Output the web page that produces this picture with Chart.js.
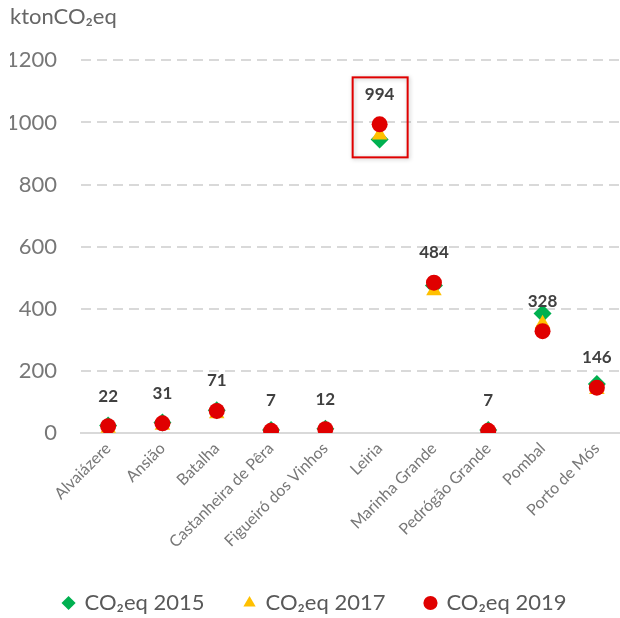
<!DOCTYPE html>
<html>
<head>
<meta charset="utf-8">
<script src="https://cdn.jsdelivr.net/npm/chart.js@4/dist/chart.umd.min.js"></script>
<style>
html,body{margin:0;padding:0;background:#fff;}
#wrap{width:620px;height:618px;}
</style>
</head>
<body>
<div id="wrap"><canvas id="c" width="620" height="618"></canvas></div>
<script>
const categories = ["Alvaiázere","Ansião","Batalha","Castanheira de Pêra","Figueiró dos Vinhos","Leiria","Marinha Grande","Pedrógão Grande","Pombal","Porto de Mós"];
const co2eq2015 = [24, 34, 73, 10, 14, 945, 475, 10, 385, 158];
const co2eq2017 = [15, 25, 62, 3, 8, 960, 458, 3, 352, 140];
const co2eq2019 = [22, 31, 71, 7, 12, 994, 484, 7, 328, 146];
const yTicks = [0, 200, 400, 600, 800, 1000, 1200];
const highlighted = "Leiria";

const FONT = "Lato, 'Open Sans', sans-serif";

const widenPlugin = {
  id: 'widen',
  afterLayout(chart) {
    const xs = chart.scales.x;
    const newRight = chart.width + 4;
    xs.right = newRight;
    xs.width = newRight - xs.left;
    xs.bottom = chart.height;
    xs.configure();
    chart.chartArea.right = newRight;
    chart.chartArea.width = newRight - chart.chartArea.left;
  }
};

const labelPlugin = {
  id: 'valueLabels',
  afterDatasetsDraw(chart) {
    const ctx = chart.ctx;
    const meta = chart.getDatasetMeta(0);
    ctx.save();
    ctx.font = "bold 17px " + FONT;
    ctx.fillStyle = "#404040";
    ctx.textAlign = "center";
    ctx.textBaseline = "middle";
    meta.data.forEach((pt, i) => {
      ctx.fillText(String(co2eq2019[i]), pt.x, pt.y - 30);
    });
    const idx = categories.indexOf(highlighted);
    const p = meta.data[idx];
    ctx.shadowColor = "rgba(0,0,0,0.25)";
    ctx.shadowBlur = 4;
    ctx.shadowOffsetX = 1;
    ctx.shadowOffsetY = 1;
    ctx.strokeStyle = "#E00000";
    ctx.lineWidth = 2;
    ctx.strokeRect(p.x - 27, p.y - 47, 55, 80);
    ctx.restore();
  }
};

new Chart(document.getElementById('c'), {
  type: 'line',
  data: {
    labels: categories,
    datasets: [
      { label: "CO\u2082eq 2019", data: co2eq2019, showLine: false, pointStyle: 'circle', pointRadius: 8, pointHoverRadius: 8, backgroundColor: '#E00000', borderColor: '#E00000', borderWidth: 0 },
      { label: "CO\u2082eq 2017", data: co2eq2017, showLine: false, pointStyle: 'triangle', pointRadius: 9, pointHoverRadius: 9, backgroundColor: '#FFC000', borderColor: '#FFC000', borderWidth: 0 },
      { label: "CO\u2082eq 2015", data: co2eq2015, showLine: false, pointStyle: 'rectRot', pointRadius: 9, pointHoverRadius: 9, backgroundColor: '#00B050', borderColor: '#00B050', borderWidth: 0 }
    ]
  },
  options: {
    responsive: false,
    animation: false,
    layout: { padding: { left: 10, right: 0, top: 0, bottom: -6 } },
    plugins: {
      tooltip: { enabled: false },
      title: {
        display: true,
        text: "ktonCO\u2082eq",
        align: 'start',
        color: '#666',
        font: { family: FONT, size: 22, weight: 'normal' },
        padding: { top: 4, bottom: 30 }
      },
      legend: {
        position: 'bottom',
        reverse: true,
        labels: {
          usePointStyle: true,
          boxWidth: 10,
          boxHeight: 10,
          padding: 40,
          color: '#595959',
          font: { family: FONT, size: 22 }
        }
      }
    },
    scales: {
      y: {
        min: 0, max: 1200,
        afterBuildTicks(scale) { scale.ticks = yTicks.map(v => ({ value: v })); },
        afterFit(scale) { scale.width = 71; },
        ticks: { color: '#777', font: { family: FONT, size: 22 }, padding: 24, callback: (v) => String(v) },
        grid: {
          color: (c) => c.tick && c.tick.value === 0 ? 'rgba(0,0,0,0)' : '#d9d9d9',
          lineWidth: 2,
          drawTicks: false
        },
        border: { display: false, dash: [10, 6] }
      },
      x: {
        offset: true,
        afterFit(scale) { scale.paddingLeft = 0; scale.paddingRight = 0; scale.height = 119; },
        ticks: { color: '#777', font: { family: FONT, size: 16 }, minRotation: 45, maxRotation: 45, padding: 6 },
        grid: { display: true, color: 'rgba(0,0,0,0)', drawTicks: false },
        border: { display: true, color: '#d9d9d9', width: 2 }
      }
    }
  },
  plugins: [widenPlugin, labelPlugin]
});
</script>
</body>
</html>
